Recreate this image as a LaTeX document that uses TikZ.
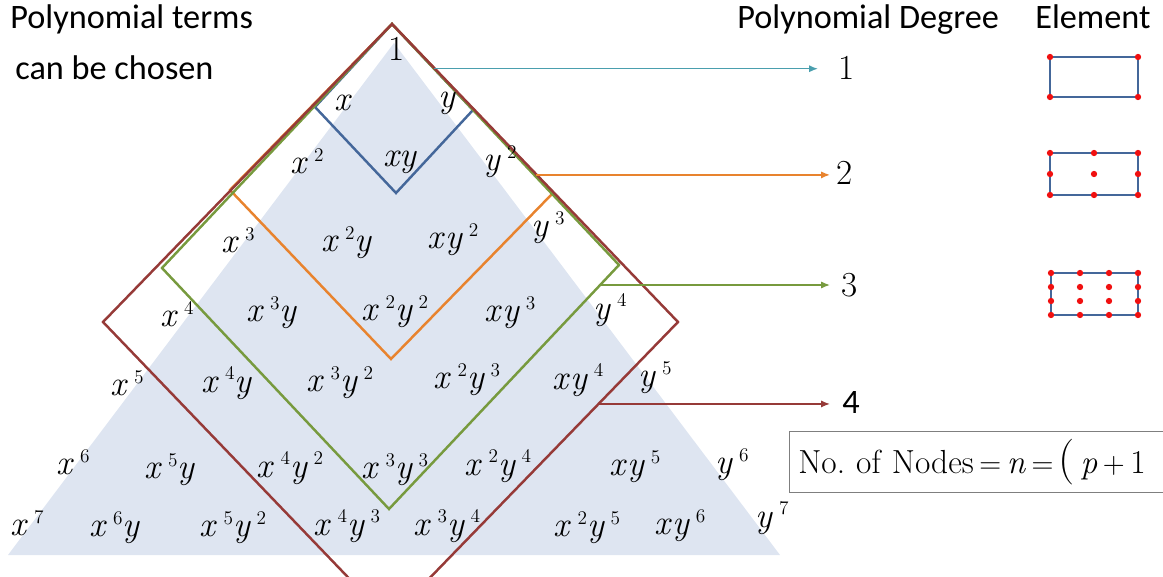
\documentclass[tikz,border=0pt]{standalone}
\usepackage{fontspec}
\newfontfamily\headfont{Carlito}
\usetikzlibrary{arrows.meta,calc}
\definecolor{Fill}{HTML}{DEE5F1}
\definecolor{Deg1}{HTML}{44679A}
\definecolor{Deg2}{HTML}{E8832E}
\definecolor{Deg3}{HTML}{779A3E}
\definecolor{Deg4}{HTML}{963A38}
\definecolor{Teal}{HTML}{4A9FAE}
\definecolor{Dot}{HTML}{F01010}
\definecolor{Edge}{HTML}{7F7F7F}
\frenchspacing
\newcommand{\xp}[1]{\textit{x}\,\raisebox{7pt}{\fontsize{11}{11}\selectfont#1}}
\newcommand{\yp}[1]{\textit{y}\,\raisebox{7pt}{\fontsize{11}{11}\selectfont#1}}
\tikzset{term/.style={font=\fontsize{20}{22}\selectfont,inner sep=0pt},head/.style={font=\headfont\fontsize{19.5}{22}\selectfont,anchor=base west,inner sep=0pt},deg/.style={font=\fontsize{20}{22}\selectfont,anchor=base west,inner sep=0pt},frame/.style={line width=1.4pt,line join=miter},link/.style={-{Latex[length=5pt,width=4pt]},line width=0.8pt},elem/.style={draw=Deg1,line width=1.2pt},dot/.style={circle,fill=Dot,minimum size=3.6pt,inner sep=0pt},formula/.style={draw=Edge,line width=0.6pt,anchor=west,minimum height=1.22cm,inner xsep=5pt,text width=9cm,align=left,font=\fontsize{19}{22}\selectfont}}

\begin{document}
\begin{tikzpicture}[x=0.02cm,y=-0.02cm]
        \useasboundingbox (0,0) rectangle (1163,577);
        \fill[Fill] (394,43) -- (8,555) -- (780,555) -- cycle;
        % degree frames
        \coordinate (top) at (392,24);
        \coordinate (l1) at (315,107); \coordinate (r1) at (473,110);
        \coordinate (l2) at (230,190); \coordinate (r2) at (553,193);
        \coordinate (l3) at (162,268); \coordinate (r3) at (619,265);
        \coordinate (l4) at (103,322); \coordinate (r4) at (678,322);
        \draw[frame,Deg1] (top) -- (l1) -- ($(l1)+(r1)-(top)$) -- (r1) -- cycle;
        \draw[frame,Deg2] (top) -- (l2) -- ($(l2)+(r2)-(top)$) -- (r2) -- cycle;
        \draw[frame,Deg3] (top) -- (l3) -- ($(l3)+(r3)-(top)$) -- (r3) -- cycle;
        \draw[frame,Deg4] (top) -- (l4) -- ($(l4)+(r4)-(top)$) -- (r4) -- cycle;
        % monomials
        \node[term] (one) at (397,49) {1};
        \node[term] (x) at (343,103) {\textit{x}};
        \node[term] (y) at (447,103) {\textit{y}};
        \node[term] (x2) at (307,161) {\xp{2}};
        \node[term] (xy) at (400,162) {\textit{xy}};
        \node[term] (y2) at (500,162) {\yp{2}};
        \node[term] (x3) at (238,240) {\xp{3}};
        \node[term] (x2y) at (347,243) {\xp{2}\textit{y}};
        \node[term] (xy2) at (453,240) {\textit{x}\yp{2}};
        \node[term] (y3) at (548,228) {\yp{3}};
        \node[term] (x4) at (177,314) {\xp{4}};
        \node[term] (x3y) at (272,313) {\xp{3}\textit{y}};
        \node[term] (x2y2) at (395,312) {\xp{2}\yp{2}};
        \node[term] (xy3) at (510,313) {\textit{x}\yp{3}};
        \node[term] (y4) at (610,310) {\yp{4}};
        \node[term] (x5) at (127,383) {\xp{5}};
        \node[term] (x4y) at (227,383) {\xp{4}\textit{y}};
        \node[term] (x3y2) at (340,383) {\xp{3}\yp{2}};
        \node[term] (x2y3) at (467,380) {\xp{2}\yp{3}};
        \node[term] (xy4) at (578,380) {\textit{x}\yp{4}};
        \node[term] (y5) at (655,378) {\yp{5}};
        \node[term] (x6) at (73,462) {\xp{6}};
        \node[term] (x5y) at (170,470) {\xp{5}\textit{y}};
        \node[term] (x4y2) at (290,468) {\xp{4}\yp{2}};
        \node[term] (x3y3) at (395,470) {\xp{3}\yp{3}};
        \node[term] (x2y4) at (498,466) {\xp{2}\yp{4}};
        \node[term] (xy5) at (635,467) {\textit{x}\yp{5}};
        \node[term] (y6) at (732,465) {\yp{6}};
        \node[term] (x7) at (27,523) {\xp{7}};
        \node[term] (x6y) at (115,528) {\xp{6}\textit{y}};
        \node[term] (x5y2) at (233,528) {\xp{5}\yp{2}};
        \node[term] (x4y3) at (347,526) {\xp{4}\yp{3}};
        \node[term] (x3y4) at (447,526) {\xp{3}\yp{4}};
        \node[term] (x2y5) at (587,528) {\xp{2}\yp{5}};
        \node[term] (xy6) at (680,526) {\textit{x}\yp{6}};
        \node[term] (y7) at (772,518) {\yp{7}};
        % headings
        \node[head] (terms) at (10,29) {Polynomial terms};
        \node[head] (chosen) at (15,80) {can be chosen};
        \node[head] (degree) at (737,29) {Polynomial Degree};
        \node[head] (element) at (1035,29) {Element};
        % degree arrows
        \node[deg] (d1) at (838,80) {1};
        \node[deg] (d2) at (836,185) {2};
        \node[deg] (d3) at (841,297) {3};
        \node[deg,font=\headfont\fontsize{19.5}{22}\selectfont] (d4) at (842,414) {4};
        \coordinate (a1) at ($(top)!0.52!(r1)$);
        \coordinate (a2) at ($(top)!0.893!(r2)$);
        \coordinate (a3) at ($(r3)!0.082!($(l3)+(r3)-(top)$)$);
        \coordinate (a4) at ($(r4)!0.275!($(l4)+(r4)-(top)$)$);
        \draw[link,Teal,shorten >=0.4cm] (a1) -- (a1 -| d1.west);
        \draw[link,Deg2,shorten >=0.12cm] (a2) -- (a2 -| d2.west);
        \draw[link,Deg3,shorten >=0.22cm] (a3) -- (a3 -| d3.west);
        \draw[link,Deg4,shorten >=0.24cm] (a4) -- (a4 -| d4.west);
        % elements
        \draw[elem] (1050,57) rectangle (1138,97);
        \foreach \i in {0,1} \foreach \j in {0,1} \node[dot] (p-\i\j) at (1050+88*\i,57+40*\j) {};
        \draw[elem] (1050,153) rectangle (1138,195);
        \foreach \i in {0,1,2} \foreach \j in {0,1,2} \node[dot] (q-\i\j) at (1050+44*\i,153+21*\j) {};
        \draw[elem] (1051,273) rectangle (1138,315);
        \foreach \i in {0,...,3} \foreach \j in {0,...,3} \node[dot] (s-\i\j) at (1051+29*\i,273+14*\j) {};
        \node[formula] (nodes) at (789,462) {No. of Nodes\,$=$\,\textit{n}\,$=$\,{\fontsize{26}{26}\selectfont(}\,\textit{p}\,$+$\,1};
      \end{tikzpicture}
\end{document}
